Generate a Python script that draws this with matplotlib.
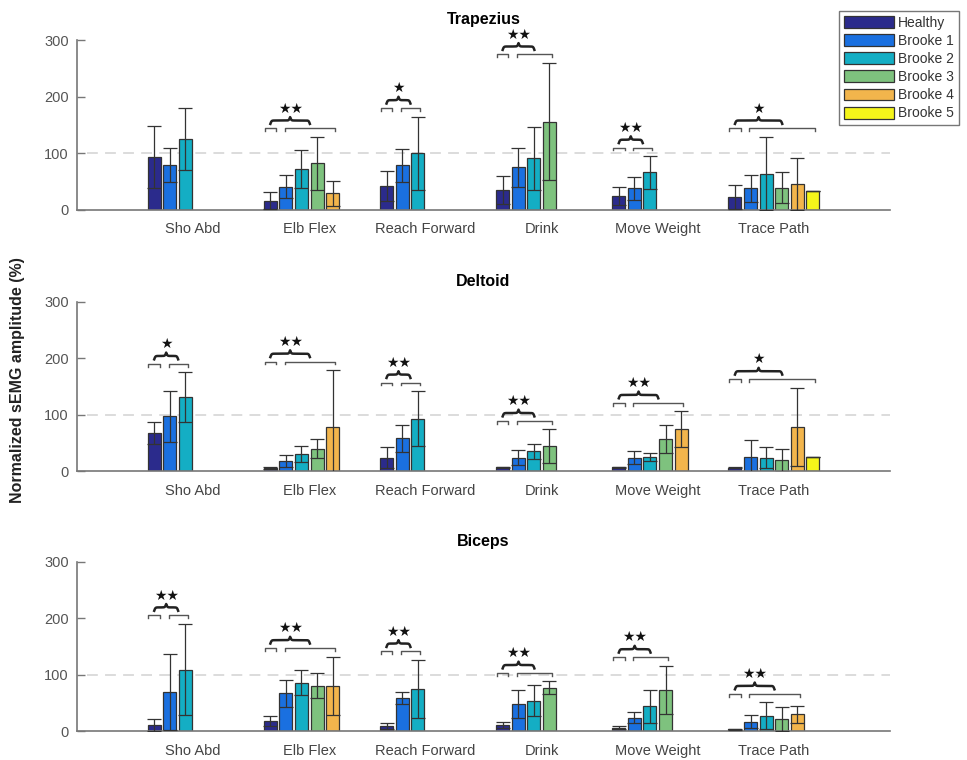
import numpy as np
import matplotlib.pyplot as plt

plt.rcParams['font.family'] = ['Liberation Sans', 'DejaVu Sans']

tasks = ['Sho Abd', 'Elb Flex', 'Reach Forward', 'Drink', 'Move Weight', 'Trace Path']
groups = ['Healthy', 'Brooke 1', 'Brooke 2', 'Brooke 3', 'Brooke 4', 'Brooke 5']
colors = ['#2b2b8c', '#1a70e0', '#14aec4', '#7ec27e', '#f2b54c', '#f5f51a']

# rows = groups, cols = tasks (0 = no data)
trap_mean = [[94, 16, 42, 35, 25, 23],
             [79, 41, 79, 75, 38, 38],
             [126, 72, 100, 91, 66, 64],
             [0, 82, 0, 156, 0, 39],
             [0, 29, 0, 0, 0, 46],
             [0, 0, 0, 0, 0, 34]]
trap_err = [[55, 15, 27, 24, 16, 21],
            [30, 21, 29, 35, 20, 24],
            [55, 33, 65, 56, 29, 65],
            [0, 47, 0, 104, 0, 27],
            [0, 22, 0, 0, 0, 46],
            [0, 0, 0, 0, 0, 0]]
delt_mean = [[68, 6, 24, 7, 7, 6],
             [97, 18, 58, 24, 24, 25],
             [131, 31, 93, 35, 25, 24],
             [0, 40, 0, 44, 57, 19],
             [0, 79, 0, 0, 74, 79],
             [0, 0, 0, 0, 0, 25]]
delt_err = [[19, 2, 19, 1, 1, 1],
            [45, 10, 24, 13, 11, 30],
            [44, 14, 49, 14, 7, 19],
            [0, 17, 0, 30, 24, 21],
            [0, 100, 0, 0, 32, 69],
            [0, 0, 0, 0, 0, 0]]
bic_mean = [[11, 18, 9, 11, 6, 3],
            [69, 67, 59, 48, 24, 17],
            [109, 86, 75, 54, 44, 27],
            [0, 80, 0, 77, 73, 22],
            [0, 80, 0, 0, 0, 30],
            [0, 0, 0, 0, 0, 0]]
bic_err = [[11, 9, 6, 5, 3, 1],
           [67, 24, 11, 25, 9, 11],
           [81, 22, 51, 27, 29, 24],
           [0, 22, 0, 11, 43, 21],
           [0, 52, 0, 0, 0, 15],
           [0, 0, 0, 0, 0, 0]]

# number of stars per task
trap_sig = [0, 2, 1, 2, 2, 1]
delt_sig = [1, 2, 2, 2, 2, 1]
bic_sig = [2, 2, 2, 2, 2, 2]

muscles = ['Trapezius', 'Deltoid', 'Biceps']
means = [trap_mean, delt_mean, bic_mean]
errs = [trap_err, delt_err, bic_err]
sigs = [trap_sig, delt_sig, bic_sig]

fig = plt.figure(figsize=(9.67, 7.6), dpi=100)
axes_pos = [[0.0796, 0.724, 0.8408, 0.223],
            [0.0796, 0.380, 0.8408, 0.223],
            [0.0796, 0.038, 0.8408, 0.223]]

step = 0.134
width = 0.112
xg = np.arange(1, len(tasks) + 1)


def brace(ax, x0, x1, y, beta=200):
    xs = np.linspace(x0, x1, 201)
    xh = xs[:101]
    yh = 1 / (1 + np.exp(-beta * (xh - xh[0]))) + 1 / (1 + np.exp(-beta * (xh - xh[-1])))
    yy = np.concatenate((yh, yh[-2::-1]))
    ax.plot(xs, y + 2 + 12 * yy, color='#222222', lw=1.8, clip_on=False)


def small_bracket(ax, x0, x1, y):
    ax.plot([x0, x0, x1, x1], [y - 5, y, y, y - 5], color='#555555', lw=1.0, clip_on=False)


handles = []
for k, ax_pos in enumerate(axes_pos):
    ax = fig.add_axes(ax_pos)
    m = np.array(means[k], dtype=float)
    e = np.array(errs[k], dtype=float)
    ax.axhline(100, xmin=0.012, color='#d9d9d9', lw=1.3, ls=(0, (6, 4)), zorder=0)
    for i in range(len(groups)):
        xs = xg + (i - 2.5) * step
        ok = m[i] > 0
        b = ax.bar(xs[ok], m[i][ok], width, color=colors[i], edgecolor='#333333',
                   lw=0.9, label=groups[i], zorder=2)
        ax.errorbar(xs[ok], m[i][ok], yerr=e[i][ok], fmt='none', ecolor='#333333',
                    elinewidth=0.9, capsize=5, capthick=0.9, zorder=3)
        if k == 0:
            handles.append(b)
    # significance marks
    for j in range(len(tasks)):
        ns = sigs[k][j]
        if ns == 0:
            continue
        valid = np.where(m[:, j] > 0)[0]
        top = max(m[valid, j] + e[valid, j])
        yb = top + 15
        hc = xg[j] - 2.5 * step
        small_bracket(ax, hc - 0.05, hc + 0.05, yb)
        bro = valid[valid > 0]
        r0 = xg[j] + (bro[0] - 2.5) * step - 0.01
        r1 = xg[j] + (bro[-1] - 2.5) * step + 0.02
        small_bracket(ax, r0, r1, yb)
        rc = (r0 + r1) / 2
        brace(ax, hc, rc, yb)
        ax.text((hc + rc) / 2, yb + 35, '\u2605' * ns, ha='center', va='center',
                fontsize=10, color='#111111', family='DejaVu Sans', clip_on=False)

    ax.set_xlim(0, 7)
    ax.set_ylim(0, 300)
    ax.set_yticks([0, 100, 200, 300])
    ax.set_xticks(xg)
    ax.set_xticklabels(tasks)
    ax.tick_params(axis='x', length=0, pad=9, labelsize=10.5, labelcolor='#444444')
    ax.tick_params(axis='y', direction='in', length=6, width=1, color='#777777',
                   labelsize=10.5, labelcolor='#555555', pad=6)
    for s in ['top', 'right']:
        ax.spines[s].set_visible(False)
    for s in ['left', 'bottom']:
        ax.spines[s].set_color('#777777')
        ax.spines[s].set_linewidth(1.2)
    ax.set_title(muscles[k], fontsize=11.5, fontweight='bold', pad=11.5)

fig.text(0.018, 0.5, 'Normalized sEMG amplitude (%)', rotation=90, ha='center',
         va='center', fontsize=11.5, fontweight='bold', color='#222222')

leg = fig.legend(handles=handles, labels=groups, loc='upper right',
                 bbox_to_anchor=(0.999, 0.995), fontsize=10, handlelength=3.6,
                 handleheight=0.95, labelspacing=0.3, handletextpad=0.3,
                 borderpad=0.35, fancybox=False, framealpha=1, edgecolor='#777777')
for t in leg.get_texts():
    t.set_color('#333333')

fig.savefig('out.png', dpi=100)
